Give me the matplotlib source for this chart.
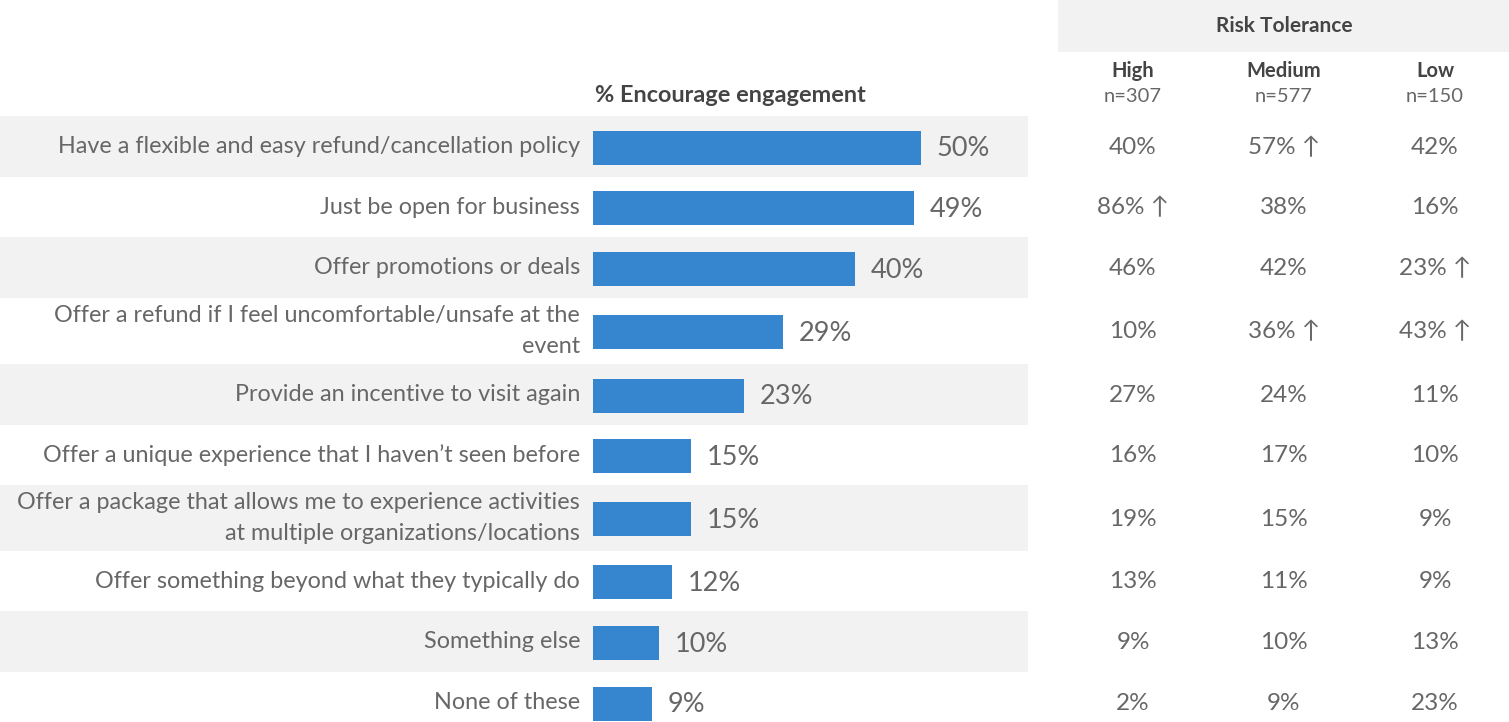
import matplotlib.pyplot as plt
from matplotlib.patches import Rectangle

plt.rcParams['font.family'] = ['Lato', 'DejaVu Sans']

# Survey items and the share that say each would encourage engagement
categories = [
    "Have a flexible and easy refund/cancellation policy",
    "Just be open for business",
    "Offer promotions or deals",
    "Offer a refund if I feel uncomfortable/unsafe at the\nevent",
    "Provide an incentive to visit again",
    "Offer a unique experience that I haven\u2019t seen before",
    "Offer a package that allows me to experience activities\nat multiple organizations/locations",
    "Offer something beyond what they typically do",
    "Something else",
    "None of these",
]
overall = [50, 49, 40, 29, 23, 15, 15, 12, 10, 9]

# Breakdown by risk tolerance group
groups = ["High", "Medium", "Low"]
group_n = [307, 577, 150]
high = [40, 86, 46, 10, 27, 16, 19, 13, 9, 2]
medium = [57, 38, 42, 36, 24, 17, 15, 11, 10, 9]
low = [42, 16, 23, 43, 11, 10, 9, 9, 13, 23]
# significantly higher than the other groups
high_up = [False, True, False, False, False, False, False, False, False, False]
medium_up = [True, False, False, True, False, False, False, False, False, False]
low_up = [False, False, True, True, False, False, False, False, False, False]

W, H = 1509, 722
BLUE = "#3586cf"
BAND = "#f2f2f2"
TXT = "#676767"
DARK = "#444444"
WT = "normal"

# row layout in pixels (two-line rows are a bit taller)
row_heights = [61, 60, 61, 66, 61, 60, 66, 60, 61, 61]
top0 = 116
row_tops = []
y = top0
for h in row_heights:
    row_tops.append(y)
    y += h
row_mid = [t + h / 2 for t, h in zip(row_tops, row_heights)]

fig = plt.figure(figsize=(W / 100, H / 100), dpi=100)
ax = fig.add_axes([0, 0, 1, 1])
ax.set_xlim(0, W)
ax.set_ylim(H, 0)
ax.axis("off")

# alternating row shading behind labels and bars
for i, (t, h) in enumerate(zip(row_tops, row_heights)):
    if i % 2 == 0:
        ax.add_patch(Rectangle((0, t), 1028, h, color=BAND, lw=0, zorder=0))
    ax.text(580, t + h / 2, categories[i], ha="right", va="center",
            fontsize=16.8, fontweight=WT, color=TXT, linespacing=1.6)

# bar panel
bar_left, bar_right = 593, 1028
bx = fig.add_axes([bar_left / W, 0, (bar_right - bar_left) / W, 1])
bx.set_ylim(H, 0)
bx.set_xlim(0, (bar_right - bar_left) / 6.56)
bx.axis("off")
bx.patch.set_alpha(0)
mids = [m + 1 for m in row_mid]
bx.barh(mids, overall, height=34, color=BLUE, zorder=2)
for m, v in zip(mids, overall):
    bx.text(v + 2.4, m + 1.5, f"{v}%", ha="left", va="center",
            fontsize=19.5, fontweight=WT, color=TXT)

ax.text(595, 95, "% Encourage engagement", ha="left", va="center",
        fontsize=16.9, fontweight="bold", color=DARK)

# risk tolerance table
ax.add_patch(Rectangle((1058, 0), W - 1058, 52, color=BAND, lw=0, zorder=0))
ax.text(1284, 26, "Risk Tolerance", ha="center", va="center",
        fontsize=15, fontweight="bold", color=DARK)

col_x = [1133, 1284, 1435]
cols = [high, medium, low]
ups = [high_up, medium_up, low_up]
for cx, g, n, vals, up in zip(col_x, groups, group_n, cols, ups):
    ax.text(cx, 71, g, ha="center", va="center",
            fontsize=14.5, fontweight="bold", color=DARK)
    ax.text(cx, 97, f"n={n}", ha="center", va="center",
            fontsize=14.5, fontweight=WT, color=TXT)
    for m, v, u in zip(row_mid, vals, up):
        label = f"{v}% \u2191" if u else f"{v}%"
        ax.text(cx, m + 1, label, ha="center", va="center",
                fontsize=17.5, fontweight=WT, color=TXT)

fig.savefig("out.png", dpi=100)
